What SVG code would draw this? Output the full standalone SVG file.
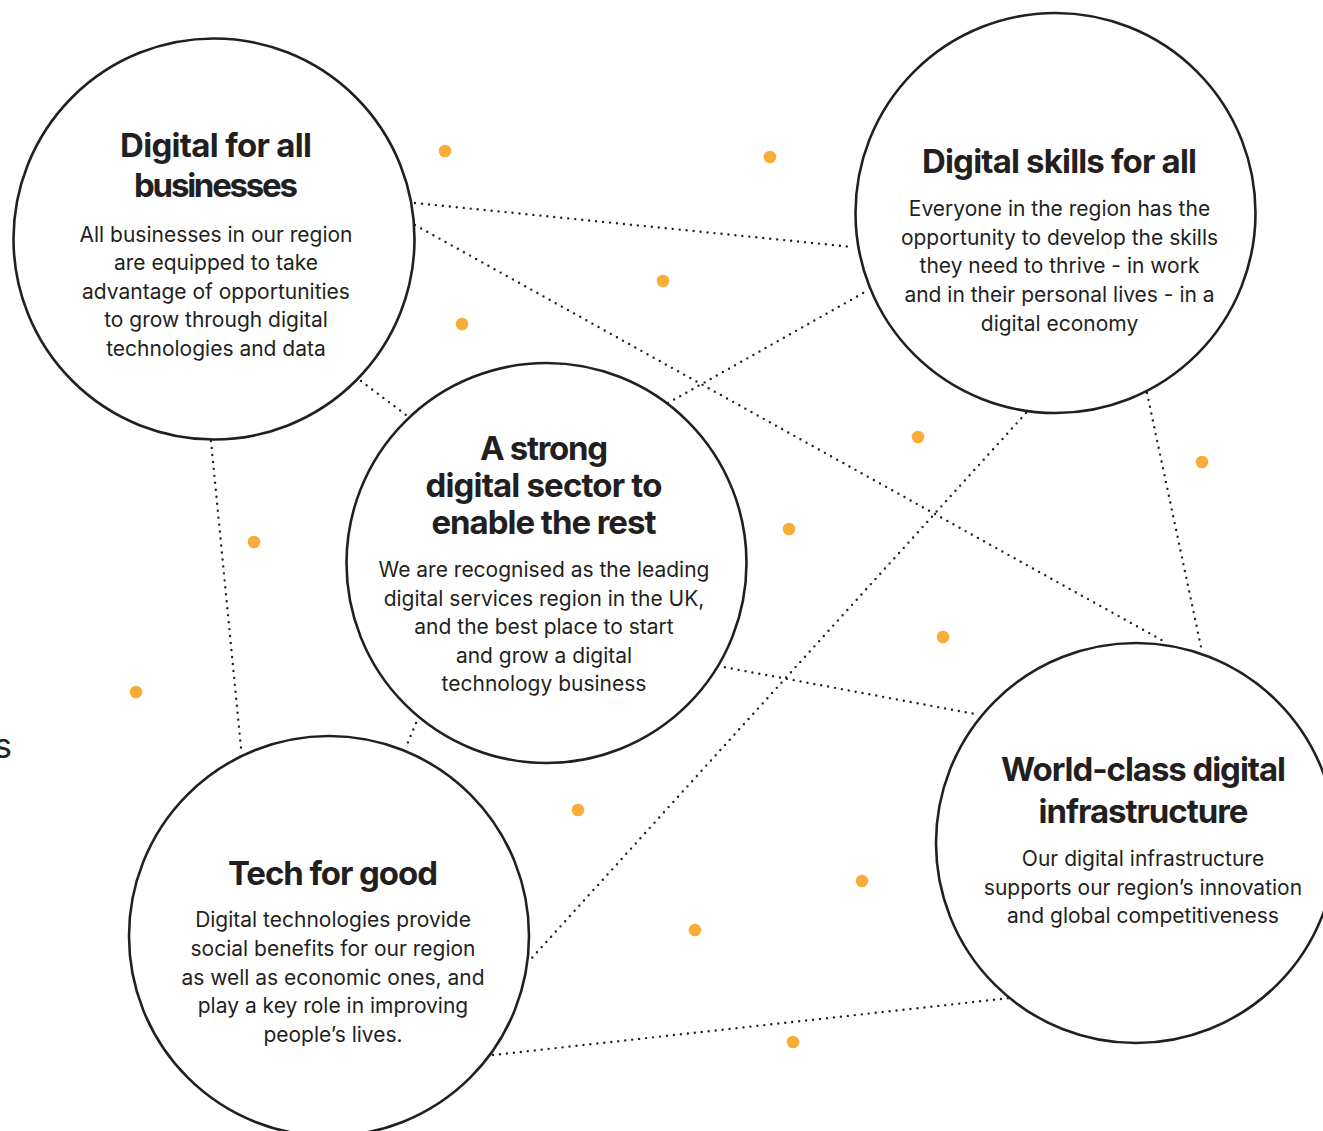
<svg xmlns="http://www.w3.org/2000/svg" width="1323" height="1131" viewBox="0 0 1323 1131">
<style>
.bg{fill:#ffffff}
.node{fill:#ffffff;stroke:#231f20;stroke-width:2.6}
.conn{fill:none;stroke:#231f20;stroke-width:2.4;stroke-linecap:round;stroke-dasharray:0 7}
.dot{fill:#f8ad39}
.title{font-family:Inter,"Liberation Sans",sans-serif;font-weight:700;font-size:33px;fill:#231f20;text-anchor:middle}
.body{font-family:Inter,"Liberation Sans",sans-serif;font-weight:400;font-size:21px;fill:#231f20;text-anchor:middle}
</style>
<rect class="bg" x="0" y="0" width="1323" height="1131"/>
<g id="connectors">
<line class="conn" x1="415" y1="203" x2="853" y2="247"/>
<line class="conn" x1="415" y1="225" x2="1167" y2="643"/>
<line class="conn" x1="361" y1="381" x2="406" y2="415"/>
<line class="conn" x1="211" y1="441" x2="241" y2="748"/>
<line class="conn" x1="668" y1="403" x2="865" y2="292"/>
<line class="conn" x1="1026" y1="413" x2="530" y2="960"/>
<line class="conn" x1="1147" y1="393" x2="1201" y2="647"/>
<line class="conn" x1="718" y1="666" x2="975" y2="714"/>
<line class="conn" x1="416" y1="723" x2="406" y2="747"/>
<line class="conn" x1="493" y1="1055" x2="1010" y2="998"/>
</g>
<g id="decor-dots">
<circle class="dot" cx="445" cy="151" r="6.3"/>
<circle class="dot" cx="770" cy="157" r="6.3"/>
<circle class="dot" cx="663" cy="281" r="6.3"/>
<circle class="dot" cx="462" cy="324" r="6.3"/>
<circle class="dot" cx="918" cy="437" r="6.3"/>
<circle class="dot" cx="1202" cy="462" r="6.3"/>
<circle class="dot" cx="789" cy="529" r="6.3"/>
<circle class="dot" cx="254" cy="542" r="6.3"/>
<circle class="dot" cx="943" cy="637" r="6.3"/>
<circle class="dot" cx="136" cy="692" r="6.3"/>
<circle class="dot" cx="578" cy="810" r="6.3"/>
<circle class="dot" cx="862" cy="881" r="6.3"/>
<circle class="dot" cx="695" cy="930" r="6.3"/>
<circle class="dot" cx="793" cy="1042" r="6.3"/>
</g>
<text class="body" x="-6" y="758" style="text-anchor:start;font-size:34px">s</text>
<g id="node-digital-for-all-businesses">
<circle class="node" cx="214" cy="239" r="200.5"/>
<text class="title" x="216" y="157" textLength="192" lengthAdjust="spacing">Digital for all</text>
<text class="title" x="216" y="197" textLength="164" lengthAdjust="spacing">businesses</text>
<text class="body" x="216" y="242">All businesses in our region</text>
<text class="body" x="216" y="270">are equipped to take</text>
<text class="body" x="216" y="299">advantage of opportunities</text>
<text class="body" x="216" y="327">to grow through digital</text>
<text class="body" x="216" y="356">technologies and data</text>
</g>
<g id="node-digital-skills-for-all">
<circle class="node" cx="1055.5" cy="213" r="200"/>
<text class="title" x="1059.5" y="173" textLength="275" lengthAdjust="spacing">Digital skills for all</text>
<text class="body" x="1059.5" y="216">Everyone in the region has the</text>
<text class="body" x="1059.5" y="245">opportunity to develop the skills</text>
<text class="body" x="1059.5" y="273">they need to thrive - in work</text>
<text class="body" x="1059.5" y="302">and in their personal lives - in a</text>
<text class="body" x="1059.5" y="331">digital economy</text>
</g>
<g id="node-strong-digital-sector">
<circle class="node" cx="546.5" cy="563" r="200"/>
<text class="title" x="544" y="460" textLength="128" lengthAdjust="spacing">A strong</text>
<text class="title" x="544" y="497" textLength="237" lengthAdjust="spacing">digital sector to</text>
<text class="title" x="544" y="534" textLength="225" lengthAdjust="spacing">enable the rest</text>
<text class="body" x="544" y="577">We are recognised as the leading</text>
<text class="body" x="544" y="606">digital services region in the UK,</text>
<text class="body" x="544" y="634">and the best place to start</text>
<text class="body" x="544" y="663">and grow a digital</text>
<text class="body" x="544" y="691">technology business</text>
</g>
<g id="node-tech-for-good">
<circle class="node" cx="329" cy="936" r="200"/>
<text class="title" x="333" y="885" textLength="210" lengthAdjust="spacing">Tech for good</text>
<text class="body" x="333" y="927">Digital technologies provide</text>
<text class="body" x="333" y="956">social benefits for our region</text>
<text class="body" x="333" y="985">as well as economic ones, and</text>
<text class="body" x="333" y="1013">play a key role in improving</text>
<text class="body" x="333" y="1042">people’s lives.</text>
</g>
<g id="node-world-class-infrastructure">
<circle class="node" cx="1136" cy="843" r="200"/>
<text class="title" x="1143.5" y="781" textLength="285" lengthAdjust="spacing">World-class digital</text>
<text class="title" x="1143.5" y="823" textLength="210" lengthAdjust="spacing">infrastructure</text>
<text class="body" x="1143" y="866">Our digital infrastructure</text>
<text class="body" x="1143" y="895">supports our region’s innovation</text>
<text class="body" x="1143" y="923">and global competitiveness</text>
</g>
</svg>
